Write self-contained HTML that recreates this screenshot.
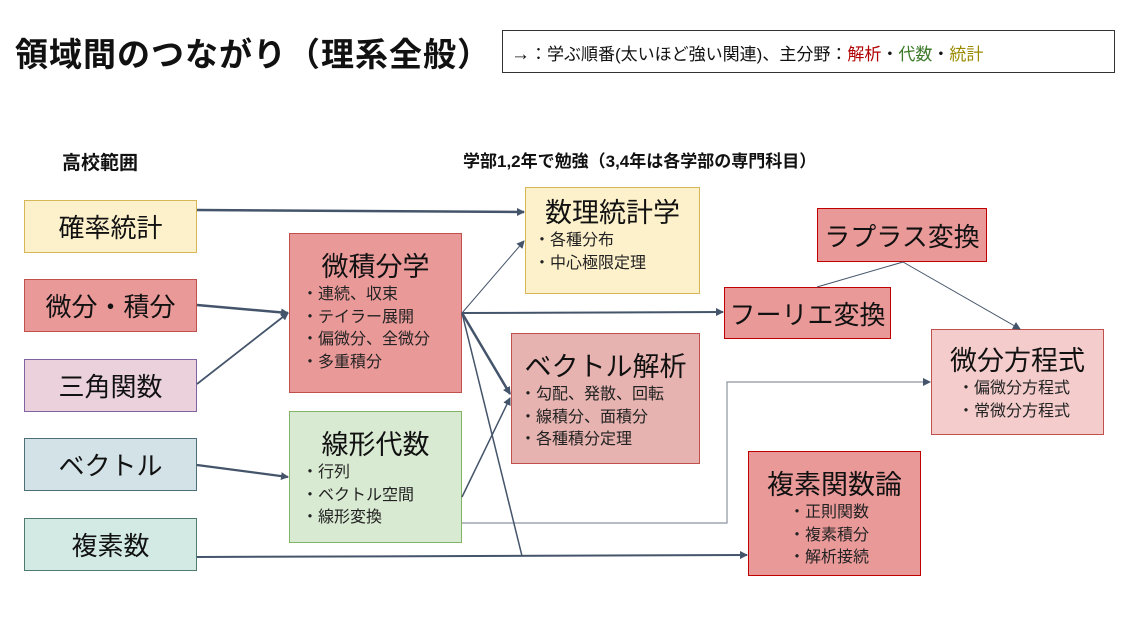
<!DOCTYPE html>
<html><head><meta charset="utf-8"><style>
body{margin:0;width:1126px;height:633px;background:#fff;position:relative;overflow:hidden;font-family:"Liberation Sans","Noto Sans CJK JP",sans-serif;color:#111}
.b{position:absolute;box-sizing:border-box;border:1.5px solid;}
.t{position:absolute;white-space:nowrap}
.c{display:flex;align-items:center;justify-content:center;font-size:26px}
.h{font-size:27px;text-align:center;margin-top:16px;line-height:34px}
.i{font-size:16px;line-height:22.5px;padding-left:12px;color:#222}
svg{position:absolute;left:0;top:0}
</style></head><body>
<div class="t" style="left:15px;top:28px;font-size:33px;font-weight:bold;letter-spacing:1px">領域間のつながり（理系全般）</div>
<div class="b" style="left:502px;top:30px;width:613px;height:43px;border:1px solid #333;font-size:17px;padding:9px 0 0 8px"><span style="font-size:19px">→</span>：学ぶ順番(太いほど強い関連)、主分野：<span style="color:#b00000">解析</span>・<span style="color:#3d7a2a">代数</span>・<span style="color:#9a8a00">統計</span></div>
<div class="t" style="left:62px;top:148px;font-size:19px;font-weight:bold">高校範囲</div>
<div class="t" style="left:463px;top:147px;font-size:17px;font-weight:bold">学部1,2年で勉強（3,4年は各学部の専門科目）</div>

<div class="b c" style="left:24px;top:200px;width:173px;height:53px;background:#fdf1cb;border-color:#d6b656">確率統計</div>
<div class="b c" style="left:24px;top:279px;width:173px;height:53px;background:#ea9999;border-color:#c0504d">微分・積分</div>
<div class="b c" style="left:24px;top:359px;width:173px;height:53px;background:#ead1dc;border-color:#8064a2">三角関数</div>
<div class="b c" style="left:24px;top:438px;width:173px;height:53px;background:#d3e2e7;border-color:#4f6f78">ベクトル</div>
<div class="b c" style="left:24px;top:518px;width:173px;height:53px;background:#d2eae3;border-color:#4f7b6e">複素数</div>

<div class="b" style="left:289px;top:233px;width:173px;height:160px;background:#ea9999;border-color:#c0504d"><div class="h">微積分学</div><div class="i">・連続、収束<br>・テイラー展開<br>・偏微分、全微分<br>・多重積分</div></div>
<div class="b" style="left:289px;top:411px;width:173px;height:132px;background:#d9ead3;border-color:#82b366"><div class="h">線形代数</div><div class="i">・行列<br>・ベクトル空間<br>・線形変換</div></div>
<div class="b" style="left:525px;top:187px;width:175px;height:107px;background:#fdf1cb;border-color:#d6b656"><div class="h" style="margin-top:8px">数理統計学</div><div class="i" style="padding-left:8px">・各種分布<br>・中心極限定理</div></div>
<div class="b" style="left:511px;top:333px;width:189px;height:131px;background:#e6b3b0;border-color:#c0504d"><div class="h">ベクトル解析</div><div class="i" style="padding-left:8px">・勾配、発散、回転<br>・線積分、面積分<br>・各種積分定理</div></div>
<div class="b c" style="left:817px;top:208px;width:170px;height:54px;background:#ea9999;border-color:#c00000">ラプラス変換</div>
<div class="b c" style="left:724px;top:287px;width:167px;height:52px;background:#ea9999;border-color:#c00000">フーリエ変換</div>
<div class="b" style="left:931px;top:329px;width:173px;height:106px;background:#f4cccc;border-color:#c0504d"><div class="h" style="margin-top:14px">微分方程式</div><div class="i" style="padding-left:26px">・偏微分方程式<br>・常微分方程式</div></div>
<div class="b" style="left:748px;top:451px;width:173px;height:125px;background:#ea9999;border-color:#c00000"><div class="h">複素関数論</div><div class="i" style="padding-left:40px">・正則関数<br>・複素積分<br>・解析接続</div></div>

<svg width="1126" height="633">
<defs><marker id="a" markerWidth="8" markerHeight="8" refX="7" refY="4" orient="auto" markerUnits="userSpaceOnUse"><path d="M0,0L8,4L0,8z" fill="#44546a"/></marker></defs>
<g stroke="#44546a" fill="none" marker-end="url(#a)">
<line x1="197" y1="210" x2="524" y2="212" stroke-width="2.5"/>
<line x1="197" y1="305" x2="288" y2="313" stroke-width="2.5"/>
<line x1="197" y1="384" x2="288" y2="313" stroke-width="1.8"/>
<line x1="197" y1="465" x2="288" y2="477" stroke-width="2.2"/>
<line x1="197" y1="557" x2="747" y2="555" stroke-width="2"/>
<line x1="462" y1="313" x2="524" y2="241" stroke-width="1"/>
<line x1="462" y1="313" x2="723" y2="312" stroke-width="2"/>
<line x1="462" y1="313" x2="510" y2="394" stroke-width="2.5"/>
<line x1="462" y1="497" x2="510" y2="398" stroke-width="1.5"/>
<line x1="903" y1="262" x2="1020" y2="329" stroke-width="1"/>
<polyline points="462,523 727,523 727,382 930,382" stroke="#8a949e" stroke-width="1.2"/>
</g>
<line x1="462" y1="313" x2="522" y2="556" stroke="#44546a" stroke-width="1.5"/>
<line x1="903" y1="262" x2="817" y2="287" stroke="#44546a" stroke-width="1"/>
</svg>
</body></html>
